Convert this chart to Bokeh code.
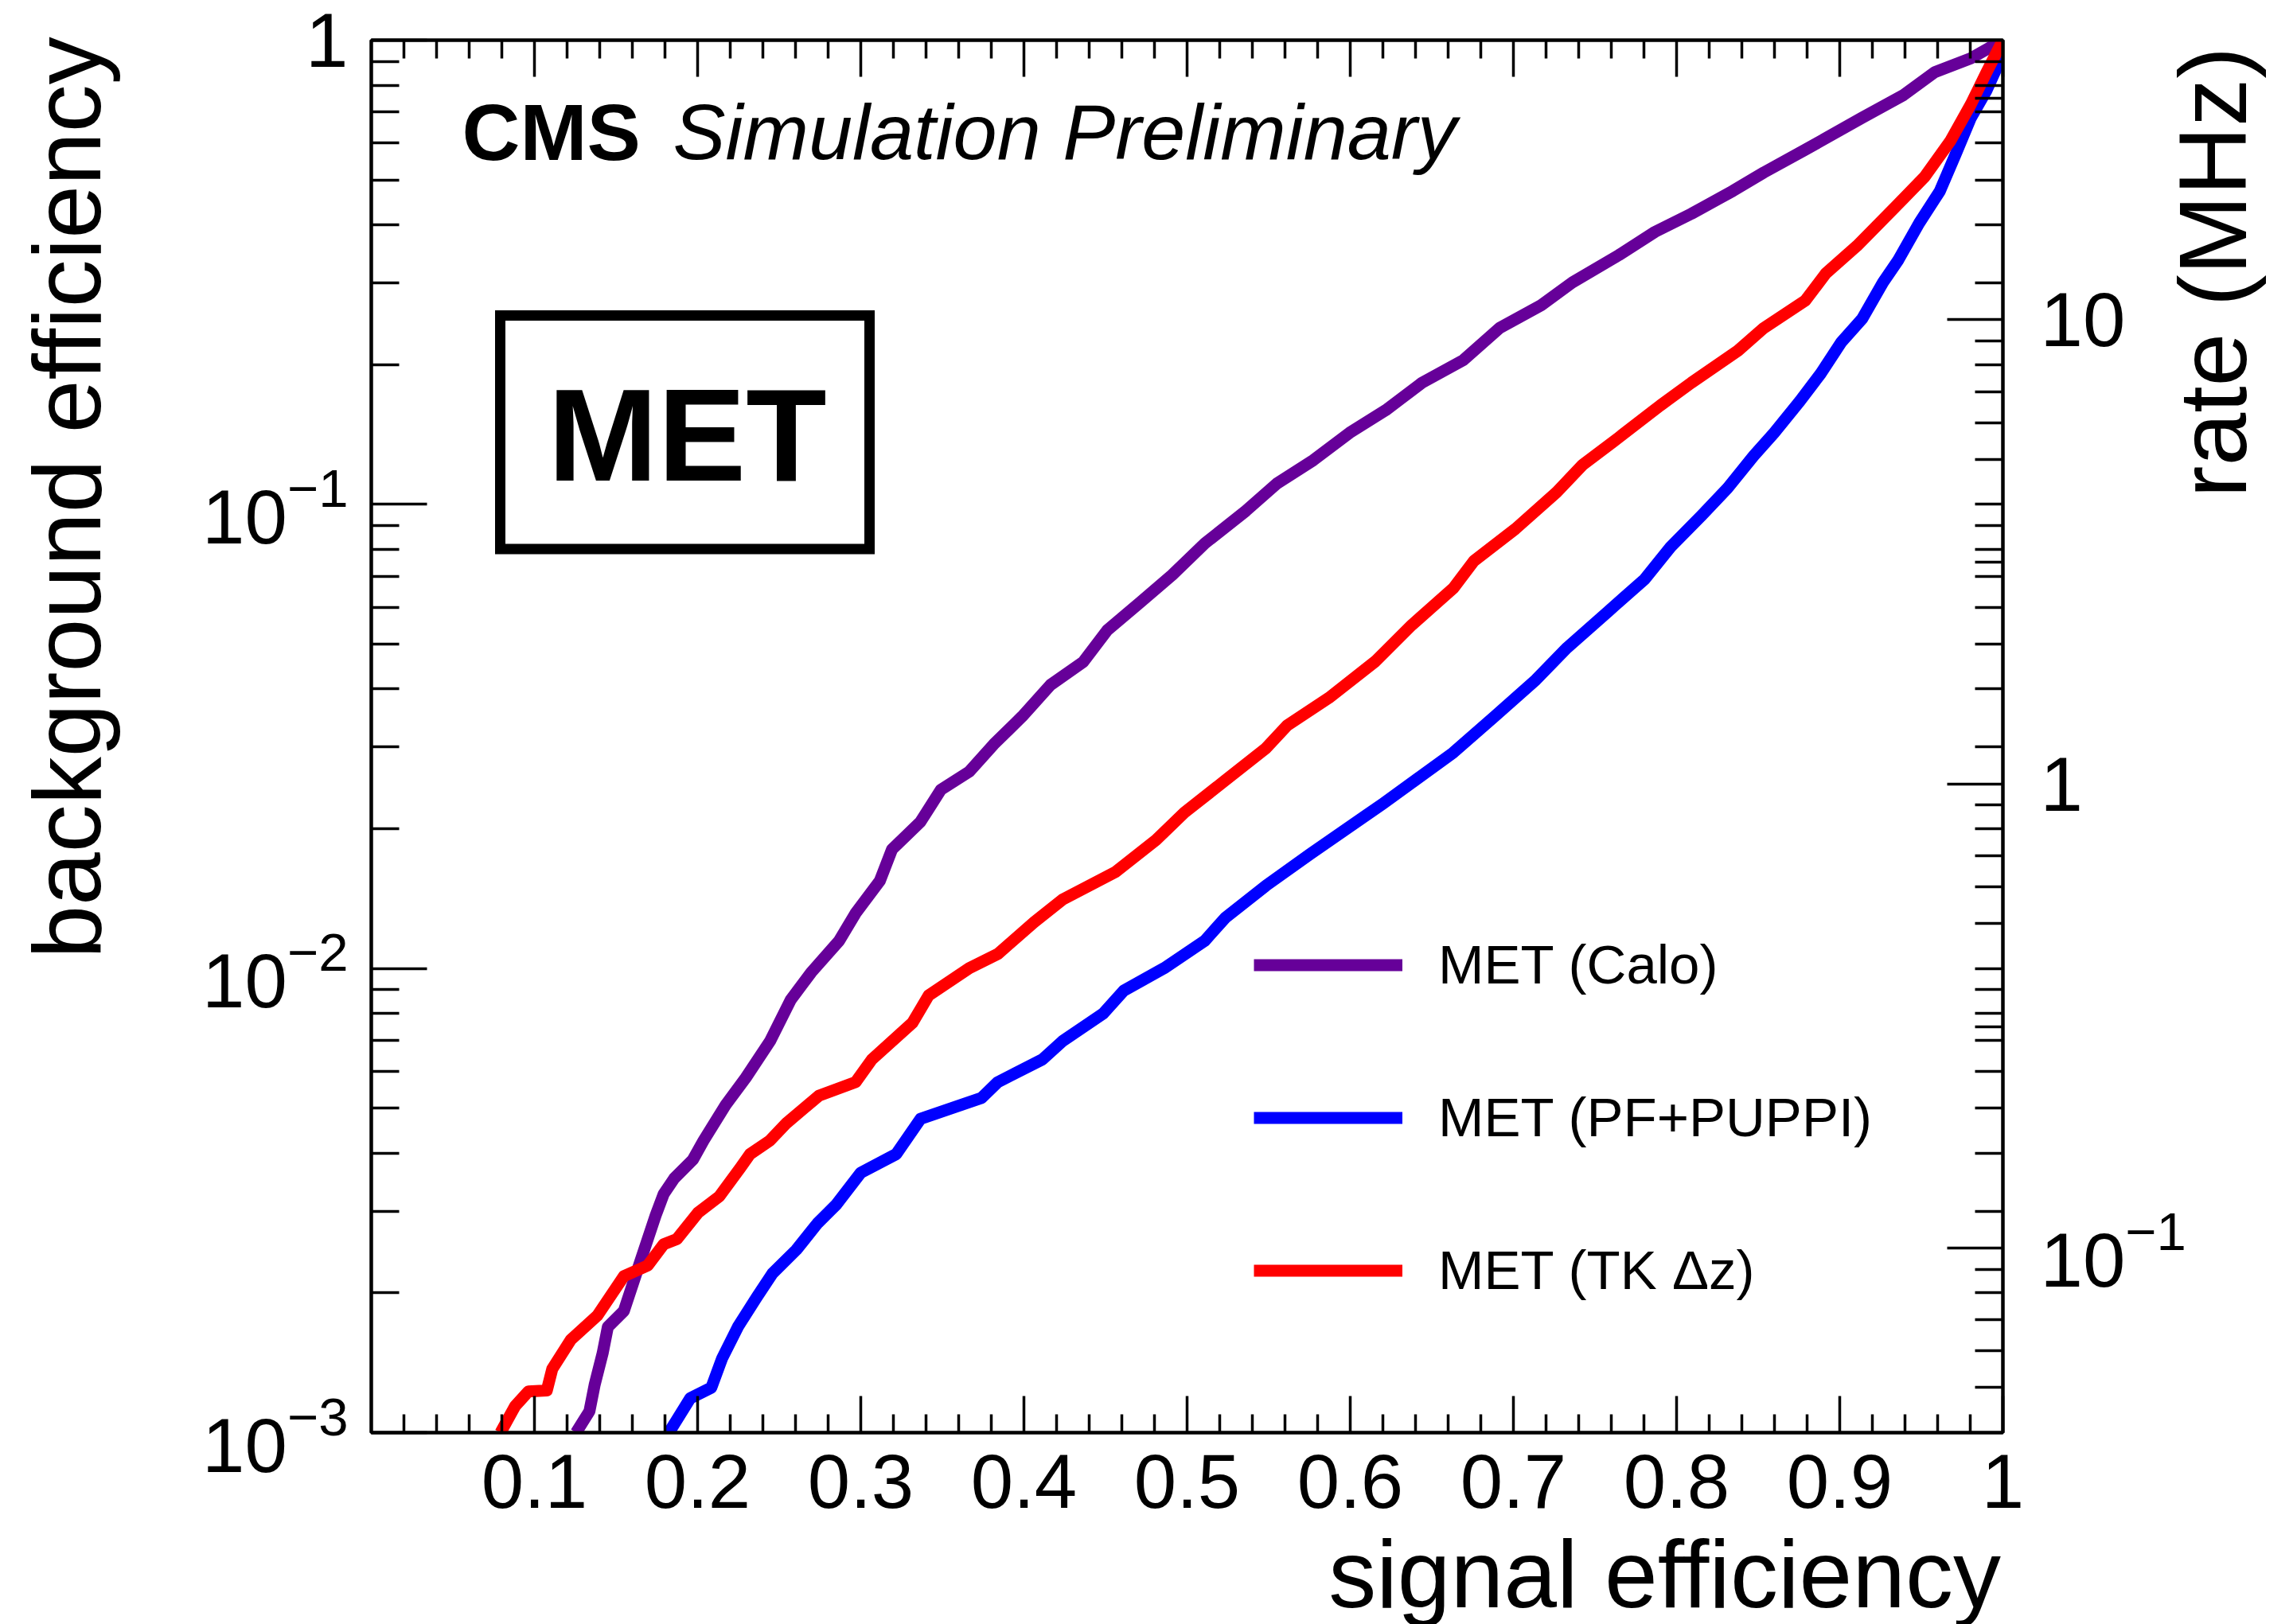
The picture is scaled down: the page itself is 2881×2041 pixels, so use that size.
import math
from bokeh.plotting import figure
from bokeh.models import (FixedTicker, LogAxis, LinearAxis, Range1d, LogScale, Label, Axis,
                          BoxAnnotation, Legend, LegendItem, CustomJSTickFormatter,
                          LogTickFormatter)
from bokeh.embed import file_html
from bokeh.resources import INLINE

# ---------------- data ----------------
calo_sig = [0.1255, 0.1337, 0.1369, 0.1418, 0.1450, 0.1548, 0.1645, 0.1743, 0.1792, 0.1857,
            0.1971, 0.2036, 0.2172, 0.2296, 0.2445, 0.2570, 0.2695, 0.2868, 0.2968, 0.3117,
            0.3192, 0.3366, 0.3491, 0.3665, 0.3815, 0.3989, 0.4163, 0.4362, 0.4511, 0.4710,
            0.4909, 0.5109, 0.5361, 0.5551, 0.5774, 0.5996, 0.6218, 0.6440, 0.6694, 0.6916,
            0.7170, 0.7361, 0.7646, 0.7868, 0.8091, 0.8344, 0.8535, 0.8789, 0.9138, 0.9392,
            0.9582, 0.9804, 1.0]
calo_bkg = [0.001000, 0.001112, 0.001268, 0.001483, 0.001690, 0.001828, 0.002317, 0.002938,
            0.003266, 0.003532, 0.003873, 0.004256, 0.005082, 0.005821, 0.006982, 0.008551,
            0.009795, 0.01148, 0.01315, 0.01545, 0.01807, 0.02070, 0.02427, 0.02655, 0.03041,
            0.03491, 0.04083, 0.04571, 0.05358, 0.06138, 0.07047, 0.08241, 0.09683, 0.1109,
            0.1245, 0.1426, 0.1596, 0.1828, 0.2046, 0.2399, 0.2685, 0.3006, 0.3443, 0.3864,
            0.4227, 0.4732, 0.5188, 0.5808, 0.6808, 0.7621, 0.8531, 0.9141, 1.0]

puppi_sig = [0.1824, 0.1955, 0.2084, 0.2150, 0.2247, 0.2361, 0.2459, 0.2605, 0.2735, 0.2849,
             0.3000, 0.3217, 0.3366, 0.3615, 0.3740, 0.3839, 0.4113, 0.4238, 0.4486, 0.4611,
             0.4860, 0.5109, 0.5233, 0.5482, 0.5756, 0.6200, 0.6631, 0.6885, 0.7138, 0.7329,
             0.7583, 0.7805, 0.7963, 0.8154, 0.8313, 0.8472, 0.8598, 0.8757, 0.8884, 0.9011,
             0.9138, 0.9265, 0.9360, 0.9487, 0.9614, 0.9710, 0.9804, 0.9900, 0.9963, 1.0]
puppi_bkg = [0.001000, 0.001186, 0.001250, 0.001445, 0.001690, 0.001954, 0.002203, 0.002477,
             0.002825, 0.003097, 0.003631, 0.003981, 0.004742, 0.005082, 0.005260, 0.005689,
             0.006368, 0.006982, 0.007998, 0.008954, 0.01002, 0.01148, 0.01285, 0.01507,
             0.01766, 0.02265, 0.02917, 0.03491, 0.04188, 0.04909, 0.05888, 0.06902, 0.08091,
             0.09462, 0.1084, 0.1271, 0.1426, 0.1671, 0.1914, 0.2239, 0.2512, 0.3006, 0.3365,
             0.4036, 0.4732, 0.5675, 0.6808, 0.7798, 0.8730, 1.0]

tk_sig = [0.0792, 0.0881, 0.0963, 0.1076, 0.1109, 0.1223, 0.1385, 0.1548, 0.1694, 0.1792,
          0.1873, 0.2003, 0.2133, 0.2263, 0.2321, 0.2442, 0.2545, 0.2744, 0.2968, 0.3068,
          0.3317, 0.3416, 0.3665, 0.3839, 0.4063, 0.4238, 0.4561, 0.4810, 0.4984, 0.5233,
          0.5482, 0.5615, 0.5869, 0.6155, 0.6377, 0.6631, 0.6758, 0.7012, 0.7265, 0.7424,
          0.7646, 0.7900, 0.8091, 0.8376, 0.8535, 0.8789, 0.8916, 0.9106, 0.9328, 0.9519,
          0.9678, 0.9804, 0.9900, 1.0]
tk_bkg = [0.001000, 0.001140, 0.001227, 0.001233, 0.001371, 0.001585, 0.001786, 0.002173,
          0.002291, 0.002547, 0.002612, 0.002979, 0.003228, 0.003724, 0.003981, 0.004256,
          0.004645, 0.005321, 0.005689, 0.006368, 0.007638, 0.008750, 0.01002, 0.01074,
          0.01259, 0.01409, 0.01614, 0.01892, 0.02168, 0.02541, 0.02979, 0.03342, 0.03828,
          0.04592, 0.05495, 0.06592, 0.07551, 0.08851, 0.1062, 0.1216, 0.1393, 0.1633,
          0.1828, 0.2143, 0.2399, 0.2748, 0.3148, 0.3606, 0.4325, 0.5070, 0.6067, 0.7278,
          0.8531, 1.0]

series_labels = ["MET (Calo)", "MET (PF+PUPPI)", "MET (TK \u0394z)"]
series_colors = ["#660099", "#0000ff", "#ff0000"]

x_tick_values = [0.1, 0.2, 0.3, 0.4, 0.5, 0.6, 0.7, 0.8, 0.9, 1.0]
y_tick_values = [0.001, 0.01, 0.1, 1.0]
rate_tick_values = [0.1, 1.0, 10.0]            # MHz
rate_minor_values = [0.05, 0.06, 0.07, 0.08, 0.09, 0.2, 0.3, 0.4, 0.5, 0.6, 0.7, 0.8, 0.9,
                     2, 3, 4, 5, 6, 7, 8, 9, 20, 30]
BX_RATE_MHZ = 40.0  # rate = 40 MHz x background efficiency

x_title = "signal efficiency"
y_title = "background efficiency"
rate_title = "rate (MHz)"

# ---------------- layout constants ----------------
# (font sizes avoid exact multiples of 100px, which the SVG font parser misreads)
FONT = "Liberation Sans"
FL, FT, FW, FH = 466, 50, 2050, 1750
W, H = 2881, 2041
FB = FT + FH
DESC = 0.212  # font descent (em): baseline -> bottom anchor
NBSP = "\u00a0"  # leading no-break spaces push the centred axis titles toward the axis end


def sx(px):
    return px - FL


def sy(py):
    return FB - py


p = figure(frame_width=FW, frame_height=FH,
           x_range=Range1d(0, 1), y_range=Range1d(1e-3, 1), y_axis_type="log",
           output_backend="svg", toolbar_location=None,
           min_border_left=FL, min_border_right=W - FL - FW,
           min_border_top=FT, min_border_bottom=H - FB)
p.xgrid.visible = False
p.ygrid.visible = False
p.outline_line_color = "black"
p.outline_line_width = 4
p.background_fill_color = "white"
p.border_fill_color = "white"

HAS_ORIENT = "axis_label_orientation" in Axis.properties()

x_minor = [round(0.02 * i, 2) for i in range(1, 50) if i % 5]
xt = FixedTicker(ticks=x_tick_values, minor_ticks=x_minor)


def style_axis(ax, major, minor, hide_labels=False):
    ax.axis_line_width = 4
    ax.axis_line_color = "black"
    ax.major_tick_line_width = 3.5
    ax.minor_tick_line_width = 3.5
    ax.major_tick_in = major
    ax.major_tick_out = 0
    ax.minor_tick_in = minor
    ax.minor_tick_out = 0
    ax.major_label_text_font = FONT
    ax.major_label_text_color = "black"
    ax.major_label_text_font_size = "96px"
    ax.axis_label_text_font = FONT
    ax.axis_label_text_font_size = "120px"
    ax.axis_label_text_font_style = "normal"
    ax.axis_label_text_color = "black"
    if hide_labels:
        ax.major_label_text_font_size = "1px"
        ax.major_label_text_alpha = 0
        ax.major_label_standoff = 0


# bottom axis
xa = p.xaxis[0]
xa.ticker = xt
xa.formatter = CustomJSTickFormatter(code="return tick > 0.999 ? '1' : tick.toFixed(1)")
style_axis(xa, 46, 23)
xa.major_label_standoff = 27
xa.axis_label = NBSP * 36 + x_title
xa.axis_label_standoff = 13

# top mirror axis
top = LinearAxis(ticker=xt)
style_axis(top, 46, 23, hide_labels=True)
p.add_layout(top, "above")

# left axis
eff_minor = [m * 10.0 ** e for e in (-3, -2, -1) for m in range(2, 10)]
ya = p.yaxis[0]
ya.ticker = FixedTicker(ticks=y_tick_values, minor_ticks=eff_minor)
ya.formatter = LogTickFormatter()
style_axis(ya, 70, 35)
ya.major_label_overrides = {1: "1"}
ya.major_label_standoff = 29
ya.axis_label = NBSP * 18 + y_title
ya.axis_label_standoff = 100

# right axis: rate (MHz) + mirrored efficiency ticks
p.extra_y_ranges = {"rate": Range1d(1e-3 * BX_RATE_MHZ, 1.0 * BX_RATE_MHZ)}
p.extra_y_scales = {"rate": LogScale()}
mirror_ticks = [v * BX_RATE_MHZ for v in eff_minor + [0.01, 0.1]]
ra = LogAxis(y_range_name="rate",
             ticker=FixedTicker(ticks=rate_tick_values,
                                minor_ticks=rate_minor_values + mirror_ticks),
             formatter=LogTickFormatter())
style_axis(ra, 70, 35)
ra.major_label_overrides = {1: "1", 10: "10"}
ra.major_label_standoff = 47
ra.axis_label = NBSP * 9 + rate_title
ra.axis_label_standoff = 30
if HAS_ORIENT:
    ra.axis_label_orientation = math.pi / 2
p.add_layout(ra, "right")

# ---------------- curves ----------------
renderers = []
for xs_, ys_, c in [(calo_sig, calo_bkg, series_colors[0]),
                    (puppi_sig, puppi_bkg, series_colors[1]),
                    (tk_sig, tk_bkg, series_colors[2])]:
    renderers.append(p.line(xs_, ys_, line_color=c, line_width=15, line_join="round"))

legend = Legend(items=[LegendItem(label=l, renderers=[r]) for l, r in zip(series_labels, renderers)],
                location=(sx(1575), sy(1637)), orientation="vertical",
                glyph_width=187, glyph_height=81, label_height=81,
                label_standoff=45, spacing=111, padding=0, margin=0,
                border_line_alpha=0, background_fill_alpha=0,
                label_text_font=FONT, label_text_font_size="69px",
                label_text_color="black")
p.add_layout(legend, "center")


def lab(text, x, y, size_px, **kw):
    d = dict(x=x, y=y, x_units="screen", y_units="screen", text=text,
             text_font=FONT, text_font_size=f"{size_px}px", text_color="black")
    d.update(kw)
    p.add_layout(Label(**d))


def base_y(py, size_px):
    # frame-screen y of the bottom anchor for a baseline at canvas row py
    return sy(py + DESC * size_px)


# CMS header
lab("CMS", sx(580), base_y(200, 101), 101, text_font_style="bold")
lab("Simulation Preliminary", sx(845), base_y(200, 99), 99, text_font_style="italic")

# MET box
p.add_layout(BoxAnnotation(left=sx(628), right=sx(1092), top=sy(396), bottom=sy(689.5),
                           left_units="screen", right_units="screen",
                           top_units="screen", bottom_units="screen",
                           fill_alpha=0, line_color="black", line_alpha=1.0,
                           line_width=13, line_join="miter"))
lab("MET", sx(863), base_y(603, 166), 166, text_font_style="bold", text_align="center")

open("out.html", "w").write(file_html(p, INLINE))
